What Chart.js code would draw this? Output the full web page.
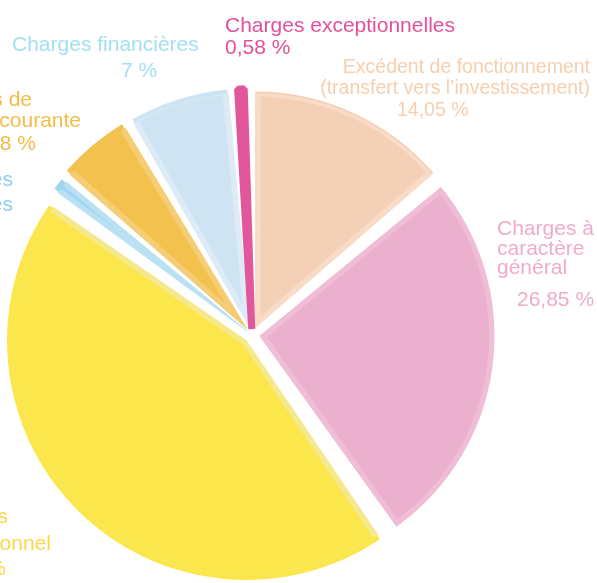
<!DOCTYPE html>
<html lang="fr">
<head>
<meta charset="utf-8">
<script src="https://cdn.jsdelivr.net/npm/chart.js@4.4.0/dist/chart.umd.min.js"></script>
<style>
  html, body { margin: 0; padding: 0; background: #fff; }
  #wrap { width: 597px; height: 583px; position: relative; }
</style>
</head>
<body>
<div id="wrap"><canvas id="pieChart"></canvas></div>
<script>
// clockwise from 12 o'clock
const categories = [
  'Excédent de fonctionnement (transfert vers l’investissement)',
  'Charges à caractère général',
  'Charges de personnel',
  'Autres charges diverses',
  'Charges de gestion courante',
  'Charges financières',
  'Charges exceptionnelles'
];
const values = [14.05, 26.85, 45.5, 0.94, 5.08, 7, 0.58];
const valueLabels = ['14,05 %', '26,85 %', '45,5 %', '', '5,08 %', '7 %', '0,58 %'];

const fills = ['#f4d1b6', '#ebb0cd', '#fbe74b', '#9fd5ef', '#f2c14e', '#cfe4f2', '#e2579b'];
const rims  = ['#f8dcc7', '#efbdd6', '#f6e88c', '#b9e0f3', '#f5cd77', '#ddebf6', '#e2579b'];
const textColors = ['#f6cfae', '#efabcb', '#fad84c', '#8ccff0', '#f4bc45', '#a3e0f2', '#e4509a'];
const explode = [32, 32, 32, 24, 32, 32, 24];
const rimWidth = [5, 5, 5, 4, 5, 5, 7];
const rimAlign = ['inner', 'inner', 'inner', 'inner', 'inner', 'inner', 'center'];

// empty wedge between slices (same units as values)
const GAP = 0.45;
const NONE = 'rgba(0,0,0,0)';

const pieLabels = [], pieData = [], pieBg = [], pieRim = [], pieOffset = [], pieBw = [], pieAlign = [];
values.forEach((v, i) => {
  pieLabels.push(categories[i], '');
  pieData.push(v, GAP);
  pieBg.push(fills[i], NONE);
  pieRim.push(rims[i], NONE);
  pieOffset.push(explode[i], 0);
  pieBw.push(rimWidth[i], 0);
  pieAlign.push(rimAlign[i], 'inner');
});

const labelBlocks = [
  { i: 0, font: '19.5px', lines: [
    ['Excédent de fonctionnement', 'right', 590, 73],
    ['(transfert vers l’investissement)', 'right', 590, 94],
    [valueLabels[0], 'left', 397, 116] ] },
  { i: 1, font: '21px', lines: [
    ['Charges à', 'left', 497, 235],
    ['caractère', 'left', 497, 255],
    ['général', 'left', 497, 274],
    [valueLabels[1], 'left', 517, 306] ] },
  { i: 2, font: '21px', lines: [
    ['Charges', 'right', 8, 523],
    ['de personnel', 'right', 51, 550],
    [valueLabels[2], 'right', 6, 575] ] },
  { i: 3, font: '21px', lines: [
    ['Autres charges', 'right', 13, 186],
    ['diverses', 'right', 13, 211] ] },
  { i: 4, font: '21px', lines: [
    ['Charges de', 'right', 32, 106],
    ['gestion courante', 'right', 81, 127],
    [valueLabels[4], 'right', 36, 150] ] },
  { i: 5, font: '21px', lines: [
    ['Charges financières', 'left', 12, 51],
    [valueLabels[5], 'left', 121, 77] ] },
  { i: 6, font: '21px', lines: [
    ['Charges exceptionnelles', 'left', 225, 32],
    [valueLabels[6], 'left', 225, 54] ] }
];

const sliceLabels = {
  id: 'sliceLabels',
  afterDraw(chart) {
    const ctx = chart.ctx;
    ctx.save();
    ctx.textBaseline = 'alphabetic';
    labelBlocks.forEach(b => {
      ctx.fillStyle = textColors[b.i];
      ctx.font = b.font + " 'Liberation Sans', Arial, Helvetica, sans-serif";
      b.lines.forEach(([t, align, x, y]) => {
        if (!t) return;
        ctx.textAlign = align;
        ctx.fillText(t, x, y);
      });
    });
    ctx.restore();
  }
};

new Chart(document.getElementById('pieChart'), {
  type: 'pie',
  data: {
    labels: pieLabels,
    datasets: [{
      data: pieData,
      backgroundColor: pieBg,
      borderColor: pieRim,
      borderWidth: pieBw,
      borderAlign: pieAlign,
      offset: pieOffset,
      radius: 234.5
    }]
  },
  options: {
    responsive: true, maintainAspectRatio: false,
    devicePixelRatio: 1,
    animation: false,
    layout: { padding: { left: 0, right: 93, top: 87, bottom: 0 } },
    plugins: { legend: { display: false }, tooltip: { enabled: false } }
  },
  plugins: [sliceLabels]
});
</script>
</body>
</html>
